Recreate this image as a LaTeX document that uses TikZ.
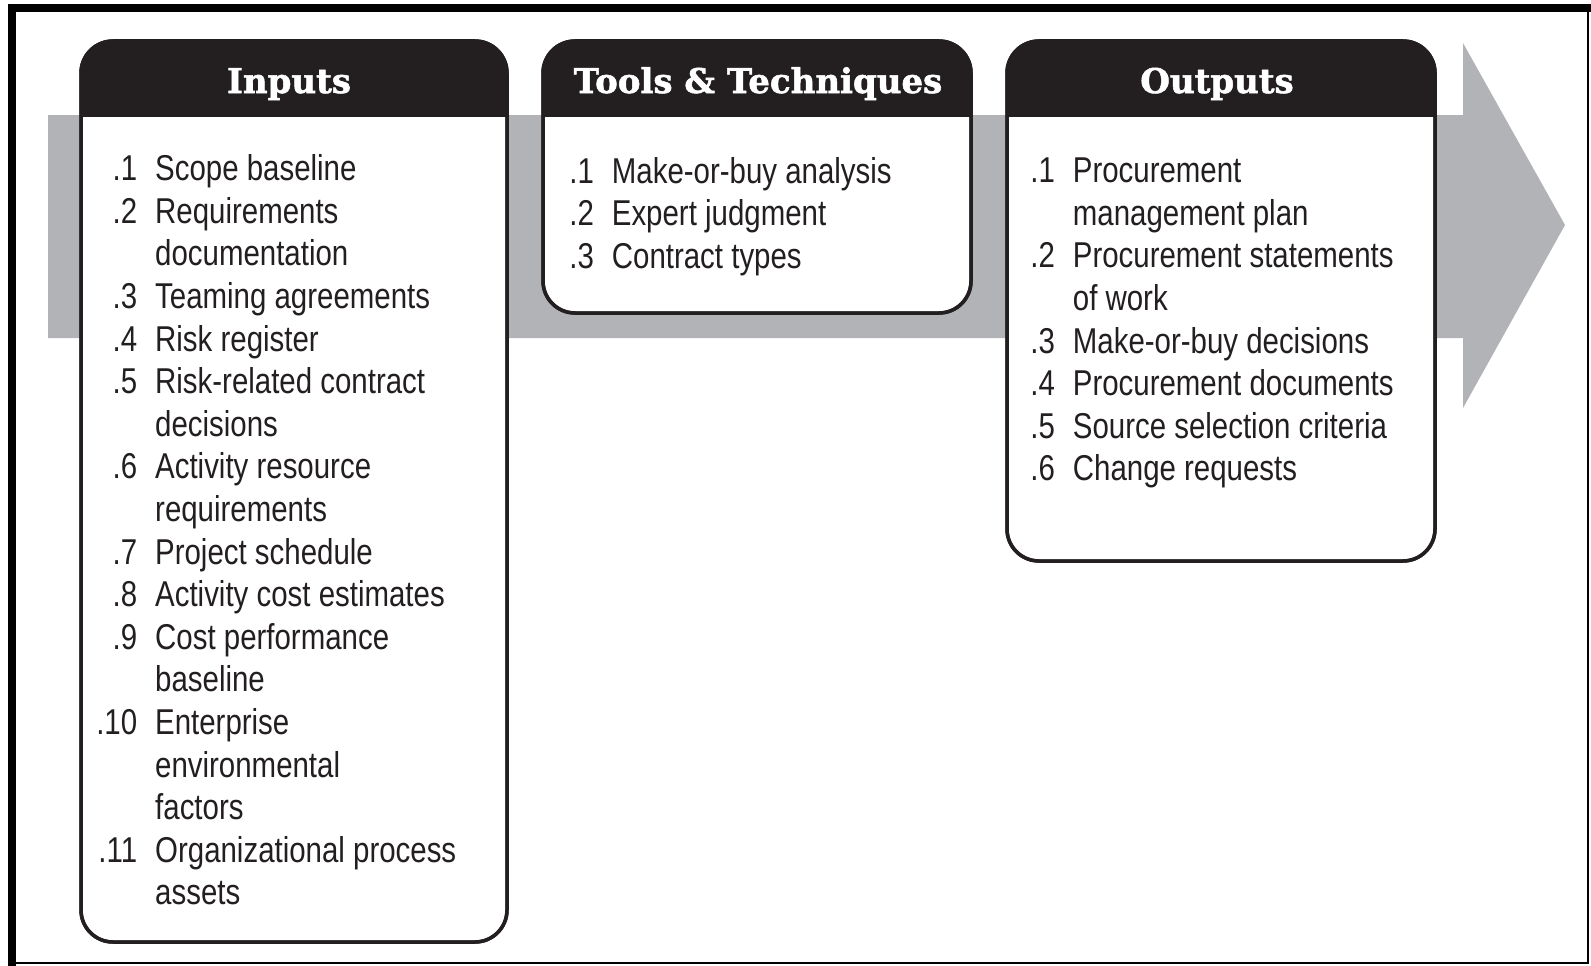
\documentclass[tikz,border=0pt]{standalone}
\usepackage{fontspec}
\setmainfont{Liberation Sans}[FakeStretch=0.82]
\newfontfamily\hdrfont{DejaVu Serif}[BoldFeatures={FakeBold=1.6}]
\definecolor{hdr}{HTML}{231F20}
\definecolor{bandgray}{HTML}{B2B3B6}
\newcommand\numc[1]{\makebox[45pt][r]{#1}}
\tikzset{
  panel/.style={draw=hdr, line width=3.5pt, fill=white, rounded corners=32pt,
    anchor=north west, inner sep=0pt, outer sep=0pt},
  headtxt/.style={text=white, font=\hdrfont\bfseries\fontsize{34}{40}\selectfont,
    anchor=base, inner sep=0pt},
  listtxt/.style={text=hdr, font=\fontsize{35.9}{42.6}\selectfont,
    anchor=base west, inner sep=0pt},
  frameline/.style={fill=black},
}
\begin{document}
\begin{tikzpicture}[x=1pt,y=-1pt]
\useasboundingbox (0,0) rectangle (1591,966);
% outer frame
\fill[frameline] (8,4) rectangle (1591,12);
\fill[frameline] (8,4) rectangle (16,966);
\draw[line width=1.5pt] (16,963) -- (1588,963) -- (1588,12);
% gray process arrow
\fill[bandgray] (48,115) -- (1463,115) -- (1463,43) -- (1565,225) -- (1463,408)
  -- (1463,338) -- (48,338) -- cycle;
% panels
\node[panel, minimum width=426pt, minimum height=901pt] (inbox) at (81,41) {};
\node[panel, minimum width=428pt, minimum height=272pt] (toolbox) at (543,41) {};
\node[panel, minimum width=428pt, minimum height=520pt] (outbox) at (1007,41) {};
\foreach \b in {inbox,toolbox,outbox}{
  \begin{scope}
    \clip[rounded corners=32pt] (\b.north west) rectangle (\b.south east);
    \fill[hdr] (\b.north west) rectangle ([yshift=-76pt]\b.north east);
  \end{scope}
  \draw[draw=hdr, line width=3.5pt, rounded corners=32pt] (\b.north west) rectangle (\b.south east);
}
% headers
\node[headtxt] (inhead) at (289,93) {Inputs};
\node[headtxt] (toolhead) at (758,93) {Tools \& Techniques};
\node[headtxt] (outhead) at (1217,93) {Outputs};
% lists
\node[listtxt] (inlist) at (92,180.7) {\begin{tabular}[t]{@{}l@{\hspace{18pt}}l@{}}
\numc{.1} & Scope baseline\\
\numc{.2} & Requirements\\
 & documentation\\
\numc{.3} & Teaming agreements\\
\numc{.4} & Risk register\\
\numc{.5} & Risk-related contract\\
 & decisions\\
\numc{.6} & Activity resource\\
 & requirements\\
\numc{.7} & Project schedule\\
\numc{.8} & Activity cost estimates\\
\numc{.9} & Cost performance\\
 & baseline\\
\numc{.10} & Enterprise\\
 & environmental\\
 & factors\\
\numc{.11} & Organizational process\\
 & assets
\end{tabular}};
\node[listtxt] (toollist) at (548.7,183.3) {\begin{tabular}[t]{@{}l@{\hspace{18pt}}l@{}}
\numc{.1} & Make-or-buy analysis\\
\numc{.2} & Expert judgment\\
\numc{.3} & Contract types
\end{tabular}};
\node[listtxt] (outlist) at (1009.7,182.7) {\begin{tabular}[t]{@{}l@{\hspace{18pt}}l@{}}
\numc{.1} & Procurement\\
 & management plan\\
\numc{.2} & Procurement statements\\
 & of work\\
\numc{.3} & Make-or-buy decisions\\
\numc{.4} & Procurement documents\\
\numc{.5} & Source selection criteria\\
\numc{.6} & Change requests
\end{tabular}};
\end{tikzpicture}
\end{document}
